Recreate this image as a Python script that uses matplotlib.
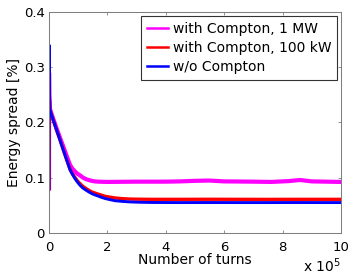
import matplotlib
matplotlib.use("Agg")
import matplotlib.pyplot as plt
from matplotlib.lines import Line2D
import numpy as np

# turns in units of 1e5
x_blue = [0.0, 0.002, 0.01, 0.034, 0.147, 0.26, 0.377, 0.49, 0.606, 0.72, 0.80, 0.89, 0.97, 1.06, 1.16, 1.27,
          1.36, 1.46, 1.57, 1.68, 1.80, 1.92, 2.08, 2.26, 2.50, 2.77, 3.1, 3.5, 4.5, 5.5, 6.5, 7.5, 8.5, 9.5, 10.0]
y_blue = [0.08, 0.34, 0.25, 0.222, 0.204, 0.186, 0.168, 0.150, 0.132, 0.114, 0.106, 0.098, 0.092, 0.086, 0.081, 0.077,
          0.074, 0.071, 0.0685, 0.0665, 0.064, 0.062, 0.060, 0.058, 0.0568, 0.0558, 0.0552, 0.0548, 0.0546, 0.0547, 0.0546, 0.0546, 0.0547, 0.0546, 0.0546]

x_red = [0.0, 0.002, 0.01, 0.034, 0.147, 0.26, 0.377, 0.49, 0.606, 0.72, 0.80, 0.89, 0.97, 1.06, 1.16, 1.27,
         1.36, 1.46, 1.57, 1.68, 1.80, 1.92, 2.08, 2.26, 2.50, 2.77, 3.1, 3.5, 4.5, 5.5, 6.5, 7.5, 8.5, 9.5, 10.0]
y_red = [0.08, 0.30, 0.25, 0.222, 0.204, 0.186, 0.168, 0.150, 0.132, 0.115, 0.107, 0.100, 0.094, 0.089, 0.084, 0.080,
         0.077, 0.074, 0.072, 0.070, 0.068, 0.066, 0.0645, 0.063, 0.0618, 0.061, 0.0607, 0.0605, 0.0605, 0.0606, 0.0605, 0.0604, 0.0605, 0.0605, 0.0605]

x_mag = [0.0, 0.002, 0.01, 0.034, 0.147, 0.26, 0.377, 0.49, 0.606, 0.72, 0.80, 0.89, 0.97, 1.06, 1.16, 1.27,
         1.36, 1.46, 1.57, 1.68, 2.0, 3.0, 4.0, 4.5, 5.0, 5.5, 6.0, 7.0, 7.6, 8.2, 8.6, 9.0, 9.5, 10.0]
y_mag = [0.08, 0.29, 0.25, 0.224, 0.206, 0.189, 0.172, 0.156, 0.139, 0.123, 0.116, 0.111, 0.107, 0.104, 0.100, 0.097,
         0.0955, 0.094, 0.093, 0.0925, 0.092, 0.0925, 0.0925, 0.093, 0.094, 0.0945, 0.093, 0.0925, 0.092, 0.0935, 0.0955, 0.093, 0.0925, 0.092]

labels = ["with Compton, 1 MW", "with Compton, 100 kW", "w/o Compton"]
colors = ["#ff00ff", "#ff0000", "#0000ff"]
x_ticks = [0, 2, 4, 6, 8, 10]
y_ticks = [0, 0.1, 0.2, 0.3, 0.4]

plt.rcParams['font.family'] = ['DejaVu Sans']
fig = plt.figure(figsize=(3.54, 2.75), dpi=100)
ax = fig.add_axes([49/354, 1-232.7/275, 292/354, 220.7/275])

scale = 1e5
ax.plot(np.array(x_mag)*scale, y_mag, color=colors[0], lw=3.0, solid_joinstyle='round')
ax.plot(np.array(x_red)*scale, y_red, color=colors[1], lw=2.4, solid_joinstyle='round')
ax.plot(np.array(x_blue)*scale, y_blue, color=colors[2], lw=2.1, solid_joinstyle='round')

ax.set_xlim(0, 10*scale)
ax.set_ylim(0, 0.4)
ax.set_xticks(np.array(x_ticks)*scale)
ax.set_xticklabels([str(t) for t in x_ticks])
ax.set_yticks(y_ticks)
ax.set_yticklabels(["0", "0.1", "0.2", "0.3", "0.4"])

gray = "#7f7f7f"
for s in ax.spines.values():
    s.set_color(gray)
    s.set_linewidth(0.75)
ax.tick_params(direction='in', length=2.5, width=0.6, color=gray, labelsize=9.5,
               top=True, right=True)
ax.tick_params(axis='x', pad=6)
ax.tick_params(axis='y', pad=3)

ax.set_ylabel("Energy spread [%]", fontsize=10)
ax.yaxis.set_label_coords(-0.097, 0.5)
ax.set_xlabel("Number of turns", fontsize=10)
ax.xaxis.set_label_coords(0.5, -0.092)
ax.text(1.0, -0.178, r"x 10$^5$", transform=ax.transAxes, ha='right', va='baseline', fontsize=10)

handles = [Line2D([0], [0], color=c, lw=1.8) for c in colors]
leg = ax.legend(handles, labels, loc='upper right', bbox_to_anchor=(0.986, 0.982),
                fontsize=10, frameon=True, fancybox=False, borderaxespad=0,
                handlelength=1.5, handletextpad=0.35, labelspacing=0.38, borderpad=0.4)
leg.get_frame().set_edgecolor('black')
leg.get_frame().set_linewidth(0.8)

fig.savefig("out.png", dpi=100)
